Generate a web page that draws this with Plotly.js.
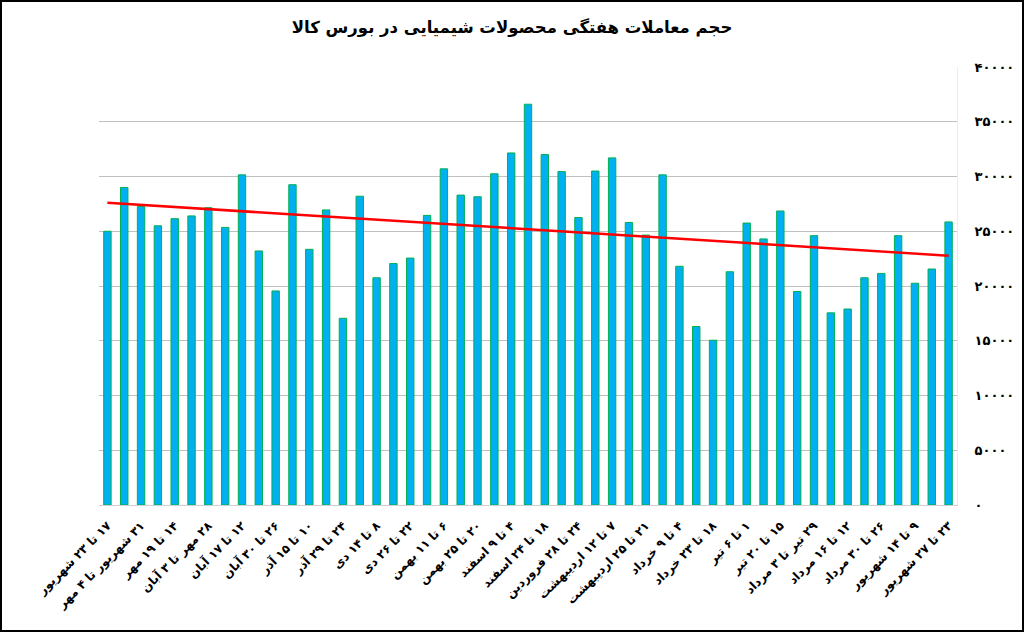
<!DOCTYPE html>
<html>
<head>
<meta charset="utf-8">
<script src="https://cdn.plot.ly/plotly-3.0.1.min.js"></script>
<style>
    html, body { margin: 0; padding: 0; background: #fff; }
    #wrap { position: relative; width: 1024px; height: 632px; }
    #chart { width: 1024px; height: 632px; }
    #frame {
        position: absolute; left: 0; top: 0; width: 1024px; height: 632px;
        box-sizing: border-box; border: 2px solid #000; pointer-events: none;
    }
</style>
</head>
<body>
<div id="wrap">
    <div id="chart"></div>
    <div id="frame"></div>
</div>
<script>
// weekly trade volume, one bar per week (51 weeks)
const weeklyVolume = [
    25000, 29000, 27250, 25500, 26150, 26400, 27150, 25350, 30150, 23200,
    19550, 29250, 23350, 26950, 17050, 28200, 20750, 22050, 22550, 26450,
    30700, 28300, 28150, 30250, 32150, 36600, 32000, 30450, 26250, 30500,
    31700, 25800, 24650, 30150, 21800, 16300, 15050, 21300, 25750, 24300,
    26850, 19500, 24600, 17550, 17900, 20750, 21150, 24600, 20250, 21550,
    25850,
];

// labels shown under every other week
const weekLabels = [
    "۱۷ تا ۲۳ شهریور", "۳۱ شهریور تا ۴ مهر", "۱۴ تا ۱۹ مهر", "۲۸ مهر تا ۳ آبان",
    "۱۲ تا ۱۷ آبان", "۲۶ تا ۳۰ آبان", "۱۰ تا ۱۵ آذر", "۲۴ تا ۲۹ آذر",
    "۸ تا ۱۴ دی", "۲۲ تا ۲۶ دی", "۶ تا ۱۱ بهمن", "۲۰ تا ۲۵ بهمن",
    "۴ تا ۹ اسفند", "۱۸ تا ۲۴ اسفند", "۲۴ تا ۲۸ فروردین", "۷ تا ۱۲ اردیبهشت",
    "۲۱ تا ۲۵ اردیبهشت", "۴ تا ۹ خرداد", "۱۸ تا ۲۳ خرداد", "۱ تا ۶ تیر",
    "۱۵ تا ۲۰ تیر", "۲۹ تیر تا ۳ مرداد", "۱۲ تا ۱۶ مرداد", "۲۶ تا ۳۰ مرداد",
    "۹ تا ۱۴ شهریور", "۲۳ تا ۲۷ شهریور",
];

// linear trend line, read at first and last week
const trendWeeks = [1, 51];
const trendValues = [27600, 22770];

const yTickVals = [0, 5000, 10000, 15000, 20000, 25000, 30000, 35000, 40000];

const TITLE = "حجم معاملات هفتگی محصولات شیمیایی در بورس کالا";
const FONT = "DejaVu Sans, sans-serif";

function toPersianDigits(n) {
    return String(n).replace(/[0-9]/g, d => "۰۱۲۳۴۵۶۷۸۹"[d]);
}

// svg text is laid out ltr; embed each label right-to-left so the
// leading week number stays on the right
function rtl(s) {
    return "\u202B" + s + "\u202C";
}

const weeks = weeklyVolume.map((_, i) => i + 1);
const labelWeeks = weekLabels.map((_, i) => 1 + i * 2);

const traces = [
    {
        x: weeks,
        y: weeklyVolume,
        type: "bar",
        marker: { color: "#00b0f0", line: { color: "#00b050", width: 1 } },
        hoverinfo: "y",
    },
    {
        x: trendWeeks,
        y: trendValues,
        type: "scatter",
        mode: "lines",
        line: { color: "#ff0000", width: 2.5 },
        hoverinfo: "skip",
    },
];

const layout = {
    width: 1024,
    height: 632,
    paper_bgcolor: "#ffffff",
    plot_bgcolor: "#ffffff",
    margin: { t: 67, b: 127, l: 99, r: 67 },
    showlegend: false,
    bargap: 0.56,
    font: { family: FONT, color: "#000" },
    title: {
        text: rtl(TITLE),
        x: 0.5,
        xref: "container",
        xanchor: "center",
        y: 0.957,
        yanchor: "middle",
        font: { family: FONT, size: 16.5, weight: "bold", color: "#000" },
    },
    xaxis: {
        range: [0.5, 51.5],
        tickvals: labelWeeks,
        ticktext: weekLabels.map(rtl),
        tickangle: -45,
        tickfont: { family: FONT, size: 12, weight: "bold", color: "#000" },
        ticklabelstandoff: 8,
        showgrid: false,
        zeroline: false,
        showline: true,
        linecolor: "#d0d0d0",
        ticks: "",
        fixedrange: true,
    },
    yaxis: {
        side: "right",
        range: [0, 40000],
        tickvals: yTickVals,
        ticktext: yTickVals.map(toPersianDigits),
        tickfont: { family: FONT, size: 13, weight: "bold", color: "#000" },
        gridcolor: "#c0c0c0",
        gridwidth: 1,
        zeroline: false,
        showline: true,
        linecolor: "#ececec",
        ticks: "",
        ticklabelstandoff: 14,
        fixedrange: true,
    },
};

Plotly.newPlot("chart", traces, layout, { displayModeBar: false, staticPlot: true });
</script>
</body>
</html>
